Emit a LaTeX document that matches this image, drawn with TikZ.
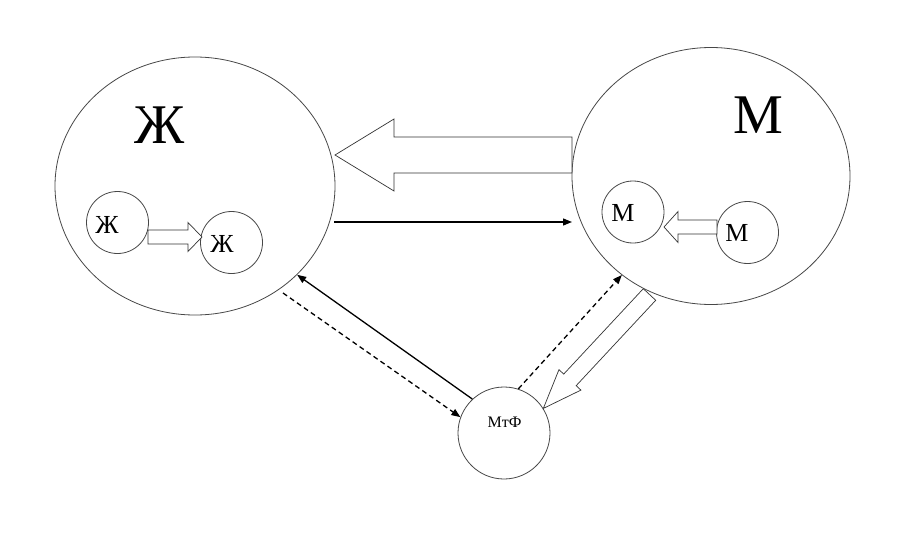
\documentclass[tikz,border=0pt]{standalone}
\usepackage{fontspec}
\setmainfont{Liberation Serif}
\usetikzlibrary{arrows.meta,calc,shapes.geometric}
\newcommand{\hollowarr}[5]{% #1 tail, #2 tip, #3 shaft half width, #4 head half width, #5 head length (pt)
  \path ($(#2)!#5pt!(#1)$) coordinate (hb);
  \draw[hollow] ($(#1)!#3pt!90:(#2)$) -- ($(hb)!#3pt!90:(#2)$) -- ($(hb)!#4pt!90:(#2)$) -- (#2)
    -- ($(hb)!#4pt!-90:(#2)$) -- ($(hb)!#3pt!-90:(#2)$) -- ($(#1)!#3pt!-90:(#2)$) -- cycle;
}
\begin{document}
\begin{tikzpicture}[x=1pt,y=-1pt,
  outl/.style={draw=black!72, line width=0.8pt},
  bigell/.style={outl, ellipse, inner sep=0pt},
  smallc/.style={outl, circle, inner sep=0pt, minimum size=62pt},
  lbl/.style={font=\fontsize{26}{26}\selectfont, inner sep=0pt},
  biglbl/.style={font=\fontsize{56}{56}\selectfont, inner sep=0pt},
  conn/.style={line width=1.3pt, -{Triangle[length=9pt,width=7pt]}},
  dconn/.style={conn, dash pattern=on 5pt off 3.5pt},
  hollow/.style={draw=black!80, line width=0.7pt, fill=white, line join=miter}
]
\useasboundingbox (0,0) rectangle (900,535);
\fill[white] (0,0) rectangle (900,535);

% large ellipses
\node[bigell, minimum width=280pt, minimum height=258pt] (L) at (195,186) {};
\node[bigell, minimum width=278pt, minimum height=257pt] (R) at (711,176) {};
\node[biglbl] (Lt) at (160,125) {Ж};
\node[biglbl] (Rt) at (758,115) {М};

% small circles
\node[smallc] (l1) at (117.5,222.5) {};
\node[smallc] (l2) at (231.5,242.5) {};
\node[smallc] (r1) at (633,212) {};
\node[smallc] (r2) at (747.5,232.5) {};
\node[lbl] (l1t) at (107,225) {Ж};
\node[lbl] (l2t) at (222,244) {Ж};
\node[lbl] (r1t) at (623,213) {М};
\node[lbl] (r2t) at (737,233) {М};

% MtF circle
\node[outl, circle, inner sep=0pt, minimum size=92pt] (F) at (504,433) {};
\node[inner sep=0pt, font=\fontsize{16}{16}\selectfont] (Ft) at (504.5,422) {МтФ};

% connector end points
\coordinate (bigtail) at (572,155);
\coordinate (bigtip) at (335,155);
\coordinate (s1) at (334,222);
\coordinate (s2) at (572,222);
\coordinate (sl) at (283,293);
\coordinate (hr) at (649.5,294.5);
\coordinate (l1e) at (148,237);
\coordinate (l2e) at (202,237);
\coordinate (r2e) at (717,227);
\coordinate (r1e) at (664,227);

% hollow arrows
\hollowarr{bigtail}{bigtip}{18}{36}{59}
\hollowarr{l1e}{l2e}{7}{14.5}{14}
\hollowarr{r2e}{r1e}{7}{15.5}{14}
\hollowarr{hr}{F.32}{8.5}{15}{39}

% thin arrows
\draw[conn] (s1) -- (s2);
\draw[conn] (F.133) -- (L.-41);
\draw[dconn] (sl) -- (F.160);
\draw[dconn] (F.72) -- (R.-132);
\end{tikzpicture}
\end{document}
